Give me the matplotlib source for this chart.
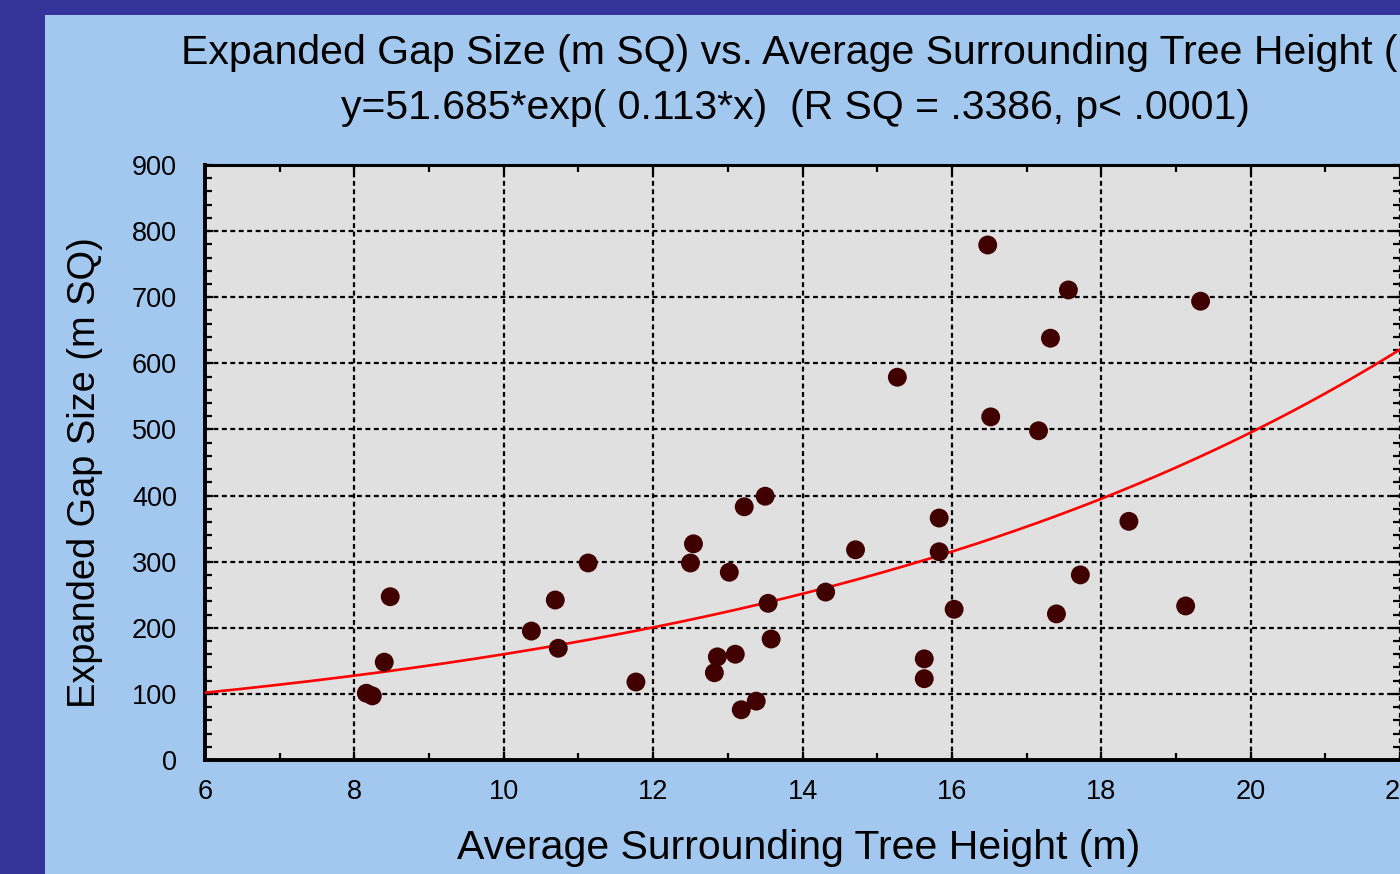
import matplotlib
matplotlib.use("Agg")
import matplotlib.pyplot as plt
from matplotlib.patches import Rectangle
from matplotlib.ticker import MultipleLocator
import numpy as np

plt.rcParams['font.family'] = ['Liberation Sans', 'DejaVu Sans']

# tree height (m) and expanded gap size (m SQ)
height = [8.16, 8.24, 8.40, 8.48, 10.37, 10.69, 10.73, 11.13, 11.77, 12.50,
          12.54, 12.82, 12.86, 13.02, 13.10, 13.18, 13.22, 13.38, 13.50, 13.54,
          13.58, 14.31, 14.71, 15.27, 15.63, 15.63, 15.83, 15.83, 16.03, 16.48,
          16.52, 17.16, 17.32, 17.40, 17.56, 17.72, 18.37, 19.13, 19.33]
gap = [101, 97, 148, 247, 195, 242, 169, 298, 118, 298,
       327, 132, 156, 284, 160, 76, 383, 89, 399, 237,
       183, 254, 318, 579, 153, 123, 366, 315, 228, 779,
       519, 498, 638, 221, 711, 280, 361, 233, 694]

# fitted curve y = a*exp(b*x)
a, b = 51.685, 0.113
title1 = "Expanded Gap Size (m SQ) vs. Average Surrounding Tree Height (m)"
title2 = "y=51.685*exp( 0.113*x)  (R SQ = .3386, p< .0001)"
xlabel = "Average Surrounding Tree Height (m)"
ylabel = "Expanded Gap Size (m SQ)"

W, H = 1400, 874
fig = plt.figure(figsize=(14, 8.74), dpi=100, facecolor='#333399')
fig.patches.append(Rectangle((45/W, 0), 1, 1 - 15/H, transform=fig.transFigure,
                             facecolor='#A3C8EF', edgecolor='none', zorder=-5))

ax = fig.add_axes([205/W, 1 - 760/H, 1 - 205/W, (760 - 165)/H])
ax.set_zorder(2)
ax.set_facecolor('#E0E0E0')

xs = np.linspace(6, 22, 300)
ax.plot(xs, a*np.exp(b*xs), color='#FF0000', lw=1.9, zorder=3)
ax.scatter(height, gap, s=185, color='#400000', edgecolors='none', zorder=4)

ax.set_xlim(6, 22)
ax.set_ylim(0, 900)
ax.xaxis.set_major_locator(MultipleLocator(2))
ax.xaxis.set_minor_locator(MultipleLocator(1))
ax.yaxis.set_major_locator(MultipleLocator(100))
ax.yaxis.set_minor_locator(MultipleLocator(20))
ax.grid(True, which='major', color='black', lw=1.6, ls=(0, (2.2, 1.6)))
ax.set_axisbelow(True)
ax.tick_params(which='both', direction='in', top=True, right=True,
               labelsize=19.5, colors='black')
ax.tick_params(which='major', length=6, width=1.6)
ax.tick_params(which='minor', length=5, width=1.6)
ax.tick_params(axis='y', pad=20)
ax.tick_params(axis='x', pad=14)
for side in ['left', 'bottom']:
    ax.spines[side].set_linewidth(2.8)
ax.spines['top'].set_linewidth(2.2)
ax.spines['right'].set_visible(False)

fig.text(181/W, 1 - 53/H, title1, ha='left', va='center', fontsize=29.5)
fig.text(341/W, 1 - 108/H, title2, ha='left', va='center', fontsize=29.5)
fig.text(799/W, 1 - 848/H, xlabel, ha='center', va='center', fontsize=29.5)
fig.text(85/W, 1 - 473/H, ylabel, ha='center', va='center', rotation=90, fontsize=27.4)

fig.savefig("out.png", dpi=100, facecolor=fig.get_facecolor())
